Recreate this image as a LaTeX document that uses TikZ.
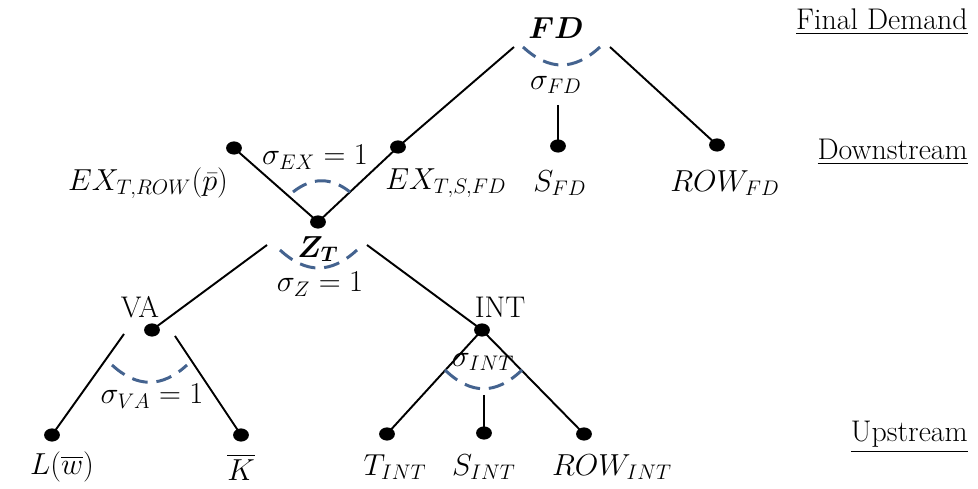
\documentclass[tikz,border=0pt]{standalone}
\usepackage{amsmath,bm}
\usetikzlibrary{shapes.geometric}
\definecolor{arcblue}{HTML}{44638F}
\begin{document}
\begin{tikzpicture}[x=0.02cm,y=-0.02cm,
  font=\fontsize{17}{20}\selectfont,
  leaf/.style={ellipse, fill=black, inner sep=0pt, minimum width=9pt, minimum height=7.5pt},
  branch/.style={line width=1.1pt},
  elast/.style={arcblue, line width=1.7pt, dash pattern=on 9pt off 5pt},
  lbl/.style={inner sep=0pt},
  tier/.style={anchor=east, inner sep=0pt}]
\useasboundingbox (0,0) rectangle (978,489);

% tier headings
\node[tier] (tfd) at (968,22) {\underline{Final Demand}};
\node[tier] (tds) at (968,152) {\underline{Downstream}};
\node[tier] (tus) at (968,437) {\underline{Upstream}};

% dots
\node[leaf] (exrow) at (234,148) {};
\node[leaf] (exsfd) at (398,147) {};
\node[leaf] (sfd) at (558,146) {};
\node[leaf] (rowfd) at (717,145) {};
\node[leaf] (zt) at (318,222) {};
\node[leaf] (va) at (152,330) {};
\node[leaf] (int) at (482,330) {};
\node[leaf] (lw) at (52,435) {};
\node[leaf] (kb) at (241,435) {};
\node[leaf] (tint) at (387,434) {};
\node[leaf] (sint) at (484,433) {};
\node[leaf] (rowint) at (584,434) {};

% labels
\node[lbl] (lfd) at (556,28) {$\bm{FD}$};
\node[lbl] (lsigfd) at (556,85) {$\sigma_{FD}$};
\node[lbl] (lexrow) at (148,183) {$EX_{T,ROW}(\bar{p})$};
\node[lbl] (lexsfd) at (446,183) {$EX_{T,S,FD}$};
\node[lbl] (lsfd) at (560,183) {$S_{FD}$};
\node[lbl] (lrowfd) at (725,183) {$ROW_{FD}$};
\node[lbl] (lsigex) at (315,157) {$\sigma_{EX}=1$};
\node[lbl] (lzt) at (318,249) {$\bm{Z_T}$};
\node[lbl] (lsigz) at (320,284) {$\sigma_{Z}=1$};
\node[lbl] (lva) at (140,307) {VA};
\node[lbl] (lint) at (500,307) {INT};
\node[lbl] (lsigva) at (152,396) {$\sigma_{VA}=1$};
\node[lbl] (lsigint) at (483,362) {$\sigma_{INT}$};
\node[lbl] (llw) at (62,467) {$L(\overline{w})$};
\node[lbl] (lkb) at (241,467) {$\overline{K}$};
\node[lbl] (ltint) at (395,467) {$T_{INT}$};
\node[lbl] (lsint) at (484,467) {$S_{INT}$};
\node[lbl] (lrowint) at (612,467) {$ROW_{INT}$};

% free ends of the branches
\coordinate (fdL) at (514,47);
\coordinate (fdR) at (610,47);
\coordinate (sfdTop) at (558,105);
\coordinate (ztL) at (267,245);
\coordinate (ztR) at (367,245);
\coordinate (vaL) at (124,334);
\coordinate (vaR) at (175,336);
\coordinate (sintTop) at (484,395);

% branches
\draw[branch] (fdL) -- (exsfd.center) -- (zt.center);
\draw[branch] (fdR) -- (rowfd.center);
\draw[branch] (sfdTop) -- (sfd.center);
\draw[branch] (exrow.center) -- (zt.center);
\draw[branch] (ztL) -- (va.center);
\draw[branch] (ztR) -- (int.center);
\draw[branch] (vaL) -- (lw.center);
\draw[branch] (vaR) -- (kb.center);
\draw[branch] (int.center) -- (tint.center);
\draw[branch] (int.center) -- (rowint.center);
\draw[branch] (sintTop) -- (sint.center);

% elasticity arcs (parabolic)
\draw[elast] (523,47) .. controls (549,71) and (574,71) .. (600,47);
\draw[elast] (293,192) .. controls (312,177) and (331,177) .. (350,192);
\draw[elast] (280,250) .. controls (306,274) and (331,274) .. (357,250);
\draw[elast] (112,365) .. controls (137,388) and (162,388) .. (187,365);
\draw[elast] (445,370) .. controls (471,395) and (496,395) .. (522,370);
\end{tikzpicture}
\end{document}
